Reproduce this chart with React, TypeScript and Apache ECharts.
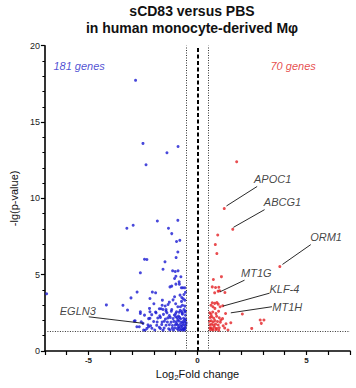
import React, { useEffect, useRef } from "react";
import * as echarts from "echarts";

// Down-regulated genes (log2 fold change, -lg p-value)
const downGenes: [number, number][] = [
  [-2.84, 17.73], [-2.5, 13.6], [-0.89, 13.4], [-1.4, 12.99], [-2.36, 12.2],
  [-3.24, 8.04], [-2.95, 8.24], [-1.84, 8.52], [-1.33, 8.04], [-1.18, 7.69], [-0.9, 8.56],
  [-0.96, 7.17], [-0.81, 7.25], [-0.9, 6.49], [-0.98, 6.12],
  [-2.43, 6.01], [-2.32, 5.99], [-1.49, 5.84], [-1.58, 5.36], [-2.62, 5.12], [-1.14, 5.25],
  [-1.02, 5.21], [-0.89, 5.25], [-0.99, 4.9], [-1.05, 4.75], [-0.76, 4.86], [-0.84, 4.53],
  [-1.18, 4.25], [-1.26, 4.2], [-0.99, 4.38], [-0.83, 4.38], [-0.74, 4.14], [-0.67, 4.14], [-0.58, 4.14],
  [-6.92, 3.75], [-2.77, 3.86], [-3.05, 3.48], [-2.07, 3.86], [-1.92, 3.81], [-0.8, 3.66], [-0.72, 3.5],
  [-0.65, 3.42], [-2.18, 3.44], [-1.61, 3.33], [-1.29, 3.2], [-0.58, 3.33],
  [-4.18, 3.02], [-3.42, 2.99], [-3.21, 2.68], [-2.62, 2.57], [-0.69, 3.0], [-0.58, 2.94], [-0.9, 2.9],
  [-0.78, 2.9], [-2.2, 2.79], [-1.75, 2.77], [-1.67, 2.77], [-1.58, 2.72], [-1.44, 2.72], [-1.18, 2.72],
  [-2.9, 1.96], [-2.78, 1.59], [-2.67, 1.59], [-2.5, 1.81],
  [-2.62, 2.46], [-2.43, 2.35], [-2.18, 2.14], [-2.86, 1.98], [-2.58, 1.92], [-2.32, 1.48], [-2.24, 1.59],
  [-2.47, 1.37],
  [-2.18, 2.57], [-1.92, 2.55], [-1.44, 2.6], [-0.96, 2.57], [-0.84, 2.54], [-0.72, 2.59], [-0.58, 2.56],
  [-2.1, 2.38], [-1.73, 2.31], [-1.56, 2.4], [-1.29, 2.33], [-1.06, 2.36], [-0.87, 2.29], [-0.69, 2.41], [-0.55, 2.34],
  [-2.24, 2.12], [-1.82, 2.16], [-1.47, 2.1], [-1.36, 2.17], [-1.12, 2.13], [-0.93, 2.18], [-0.77, 2.11], [-0.64, 2.15], [-0.54, 2.09],
  [-2.01, 1.93], [-1.62, 1.9], [-1.52, 1.95], [-1.21, 1.89], [-1.08, 1.94], [-0.97, 1.91], [-0.85, 1.96], [-0.75, 1.88], [-0.66, 1.93], [-0.57, 1.9],
  [-2.27, 1.71], [-1.87, 1.68], [-1.64, 1.73], [-1.44, 1.69], [-1.29, 1.72], [-1.15, 1.67], [-1.02, 1.71], [-0.91, 1.7], [-0.8, 1.74], [-0.7, 1.67], [-0.61, 1.72], [-0.53, 1.69],
  [-2.09, 1.49], [-1.7, 1.47], [-1.53, 1.5], [-1.32, 1.46], [-1.16, 1.49], [-1.05, 1.51], [-0.94, 1.47], [-0.84, 1.5], [-0.74, 1.46], [-0.65, 1.49], [-0.56, 1.47],
  [-2.4, 1.36], [-1.96, 1.38], [-1.58, 1.35], [-1.26, 1.37], [-1.1, 1.36], [-0.88, 1.38], [-0.78, 1.35], [-0.68, 1.37], [-0.6, 1.36],
  [-0.62, 2.72], [-0.55, 2.62], [-0.7, 2.48], [-0.82, 2.2], [-0.59, 2.03], [-0.68, 1.82], [-0.74, 1.6],
  [-0.57, 1.56], [-0.86, 1.59], [-0.63, 1.42], [-0.96, 1.78], [-0.52, 1.84], [-0.79, 2.66], [-1.0, 2.46], [-0.9, 2.04],
  [-1.35, 3.05], [-1.12, 3.35], [-1.0, 3.1], [-1.48, 2.95], [-1.9, 2.5], [-1.7, 2.2], [-1.2, 2.6], [-1.4, 2.5],
  [-1.62, 3.0], [-2.0, 3.1], [-1.05, 3.55], [-0.62, 3.7], [-0.55, 3.85], [-1.85, 1.9], [-1.75, 1.55], [-2.15, 1.65],
  [-1.38, 1.9], [-1.25, 2.2], [-1.0, 2.25], [-0.73, 3.25],
];

// Up-regulated genes
const upGenes: [number, number][] = [
  [1.8, 12.4], [1.23, 9.33], [1.62, 7.97], [0.93, 7.6], [0.82, 6.97], [0.89, 6.38], [3.78, 5.53],
  [1.1, 4.87], [0.73, 4.68], [0.68, 4.2], [0.83, 4.16], [0.98, 4.18], [0.95, 3.92], [1.02, 3.94],
  [1.26, 3.83], [0.79, 3.81], [0.68, 3.16], [0.79, 3.12], [0.89, 3.18], [0.95, 3.07], [1.04, 2.9],
  [1.16, 2.96], [0.71, 2.9], [0.8, 2.79], [0.62, 3.0], [1.29, 2.46], [2.06, 2.42], [1.53, 1.85],
  [1.31, 1.79], [1.07, 2.03], [2.88, 2.03], [2.93, 1.81], [3.05, 2.03], [2.49, 1.48],
  [0.56, 2.5], [0.62, 2.4], [0.7, 2.55], [0.85, 2.45], [0.97, 2.6],
  [0.58, 2.2], [0.66, 2.25], [0.75, 2.15], [0.88, 2.28], [1.0, 2.18], [1.15, 2.12],
  [0.55, 1.95], [0.63, 1.98], [0.72, 1.9], [0.8, 2.0], [0.92, 1.93], [1.05, 1.88],
  [0.57, 1.72], [0.65, 1.75], [0.74, 1.68], [0.83, 1.76], [0.95, 1.7], [1.18, 1.65],
  [0.56, 1.5], [0.62, 1.52], [0.69, 1.45], [0.78, 1.55], [0.88, 1.48], [1.0, 1.52], [1.25, 1.5],
  [0.6, 1.38], [0.72, 1.36], [0.85, 1.4], [0.98, 1.35], [1.4, 1.38],
];

// Gene annotations: name, label position, leader line start & end (data coords)
const annoNames = ["APOC1", "ABCG1", "ORM1", "MT1G", "KLF-4", "MT1H", "EGLN3"];
const annoLabelPos: [number, number][] = [
  [3.45, 11.24], [3.9, 9.76], [5.9, 7.47], [2.7, 5.12], [3.99, 4.07], [4.12, 2.86], [-5.49, 2.63],
];
const annoLineFrom: [number, number][] = [
  [1.33, 9.5], [1.65, 8.1], [3.9, 5.67], [1.04, 3.88], [1.17, 2.94], [1.53, 2.5], [-2.47, 1.81],
];
const annoLineTo: [number, number][] = [
  [2.74, 10.78], [3.08, 9.26], [5.2, 6.97], [2.16, 4.64], [3.31, 3.79], [3.42, 2.9], [-4.99, 2.24],
];

const countLabels = ["181 genes", "70 genes"];
const countPos: [number, number][] = [[-5.43, 18.65], [4.39, 18.65]];
const countColors = ["#1e1ec8", "#e01a1a"];

const fcThreshold = [-0.5, 0.5];
const pThreshold = 1.3;
const xTickLabels = [-5, 0, 5];

const FONT = "'Liberation Sans', Arial, sans-serif";

export default function App() {
  const ref = useRef<HTMLDivElement>(null);
  useEffect(() => {
    if (!ref.current) return;
    const chart = echarts.init(ref.current, undefined, { renderer: "svg" });
    const leaderLines = annoNames.map((_, i) => [
      { coord: annoLineFrom[i] },
      { coord: annoLineTo[i] },
    ]);
    chart.setOption({
      animation: false,
      textStyle: { fontFamily: FONT },
      graphic: [
        {
          type: "text",
          x: 192,
          y: 11,
          style: {
            text: "sCD83 versus PBS",
            textAlign: "center",
            textVerticalAlign: "middle",
            font: `bold 14px ${FONT}`,
            fill: "#111",
          },
        },
        {
          type: "text",
          x: 192,
          y: 28,
          style: {
            text: "in human monocyte-derived Mφ",
            textAlign: "center",
            textVerticalAlign: "middle",
            font: `bold 14px ${FONT}`,
            fill: "#111",
          },
        },
      ],
      grid: { left: 35, right: 6, top: 45.7, bottom: 37, containLabel: false },
      xAxis: {
        type: "value",
        min: -7,
        max: 7,
        interval: 1,
        splitLine: { show: false },
        axisLine: { onZero: false, lineStyle: { color: "#000", width: 1.6 } },
        axisTick: { length: 4, lineStyle: { color: "#000", width: 1.2 } },
        axisLabel: {
          formatter: (v: number) => (xTickLabels.includes(v) ? String(v) : ""),
          fontSize: 8,
          fontWeight: "bold",
          color: "#222",
          margin: 5,
        },
        name: "{a|Log}{s|2}{a|Fold change}",
        nameLocation: "middle",
        nameGap: 16,
        nameTextStyle: {
          rich: {
            a: { fontSize: 11, color: "#111", fontFamily: FONT },
            s: { fontSize: 8, color: "#111", fontFamily: FONT, padding: [6, 0, 0, 0] },
          },
        },
      },
      yAxis: {
        type: "value",
        min: 0,
        max: 20,
        interval: 5,
        splitLine: { show: false },
        axisLine: { onZero: false, lineStyle: { color: "#000", width: 1.6 } },
        axisTick: { length: 4, lineStyle: { color: "#000", width: 1.2 } },
        minorTick: { show: true, splitNumber: 5, length: 2.5, lineStyle: { color: "#000", width: 1 } },
        axisLabel: { fontSize: 9, color: "#222", margin: 5 },
        name: "-lg(p-value)",
        nameLocation: "middle",
        nameGap: 19,
        nameRotate: 90,
        nameTextStyle: { fontSize: 11, color: "#111", fontFamily: FONT },
      },
      series: [
        {
          type: "scatter",
          data: downGenes,
          symbolSize: 3,
          itemStyle: { color: "#1a1ad2" },
          silent: true,
          markLine: {
            silent: true,
            symbol: ["none", "none"],
            label: { show: false },
            data: [
              { xAxis: 0, lineStyle: { color: "#000", width: 2, type: [4, 2.5] } },
              { xAxis: fcThreshold[0], lineStyle: { color: "#333", width: 1, type: [1, 1.5] } },
              { xAxis: fcThreshold[1], lineStyle: { color: "#333", width: 1, type: [1, 1.5] } },
              { yAxis: pThreshold, lineStyle: { color: "#333", width: 1, type: [1, 1.5] } },
            ],
          },
        },
        {
          type: "scatter",
          data: upGenes,
          symbolSize: 3,
          itemStyle: { color: "#e42024" },
          silent: true,
          markLine: {
            silent: true,
            symbol: ["none", "none"],
            label: { show: false },
            lineStyle: { color: "#111", width: 0.9, type: "solid" },
            data: leaderLines,
          },
        },
        {
          type: "scatter",
          symbolSize: 0,
          silent: true,
          data: annoNames.map((n, i) => ({ name: n, value: annoLabelPos[i] })),
          label: {
            show: true,
            position: "inside",
            formatter: "{b}",
            fontSize: 11,
            fontStyle: "italic",
            color: "#111",
            fontFamily: FONT,
          },
        },
        {
          type: "scatter",
          symbolSize: 0,
          silent: true,
          data: countLabels.map((n, i) => ({
            name: n,
            value: countPos[i],
            label: { color: countColors[i] },
          })),
          label: {
            show: true,
            position: "inside",
            formatter: "{b}",
            fontSize: 11,
            fontStyle: "italic",
            fontFamily: FONT,
          },
        },
      ],
    });
    return () => chart.dispose();
  }, []);
  return <div ref={ref} style={{ width: 356, height: 388, position: "absolute", left: 0, top: 0 }} />;
}
